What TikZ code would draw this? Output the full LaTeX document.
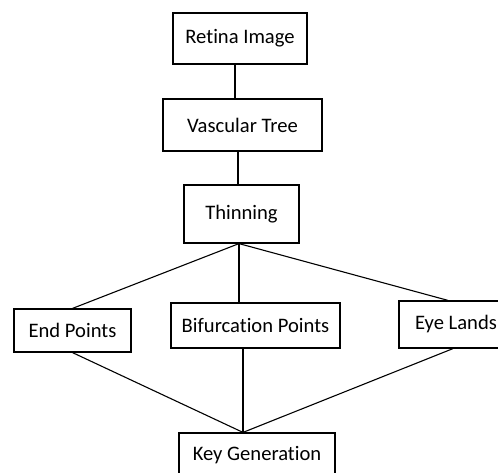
\documentclass[tikz,border=0pt]{standalone}
\usepackage{fontspec}
\setmainfont{Carlito}[Ligatures=NoCommon]
\tikzset{
  stage/.style={draw, line width=1.2pt, inner sep=0pt, font=\fontsize{20.6}{24}\selectfont},
  link/.style={line width=1.1pt}
}
\begin{document}
\begin{tikzpicture}[x=1pt,y={(0pt,-1pt)}]
\useasboundingbox (0,0) rectangle (498,473);
% pipeline boxes
\node [stage, minimum width=134pt, minimum height=51pt] (retina) at (240,38.5) {Retina Image};
\node [stage, minimum width=159pt, minimum height=52pt] (vasc) at (242.5,125) {Vascular Tree};
\node [stage, minimum width=115pt, minimum height=58pt] (thin) at (241.5,214) {Thinning};
\node [stage, minimum width=117pt, minimum height=43pt] (endp) at (72.5,330.5) {End Points};
\node [stage, minimum width=169pt, minimum height=45pt] (bif) at (255.5,325.5) {Bifurcation Points};
\node [stage, minimum width=114pt, minimum height=47pt] (eye) at (456,324.5) {Eye Lands};
\node [stage, minimum width=156pt, minimum height=44pt] (key) at (257,455) {Key Generation};
\coordinate (fan) at ([xshift=-2.5pt]thin.south);
\coordinate (meet) at ([xshift=-14pt]key.north);
% connectors
\draw [link] ([xshift=-5pt]retina.south) -- ([xshift=-5pt]retina.south |- vasc.north);
\draw [link] ([xshift=-4.5pt]vasc.south) -- ([xshift=-4.5pt]vasc.south |- thin.north);
\draw [link] (fan) -- (endp.north);
\draw [link] (fan) -- (fan |- bif.north);
\draw [link] (fan) -- ([xshift=-8pt]eye.north);
\draw [link] (endp.south) -- (meet);
\draw [link] (meet |- bif.south) -- (meet);
\draw [link] ([xshift=-3pt]eye.south) -- (meet);
\end{tikzpicture}
\end{document}
